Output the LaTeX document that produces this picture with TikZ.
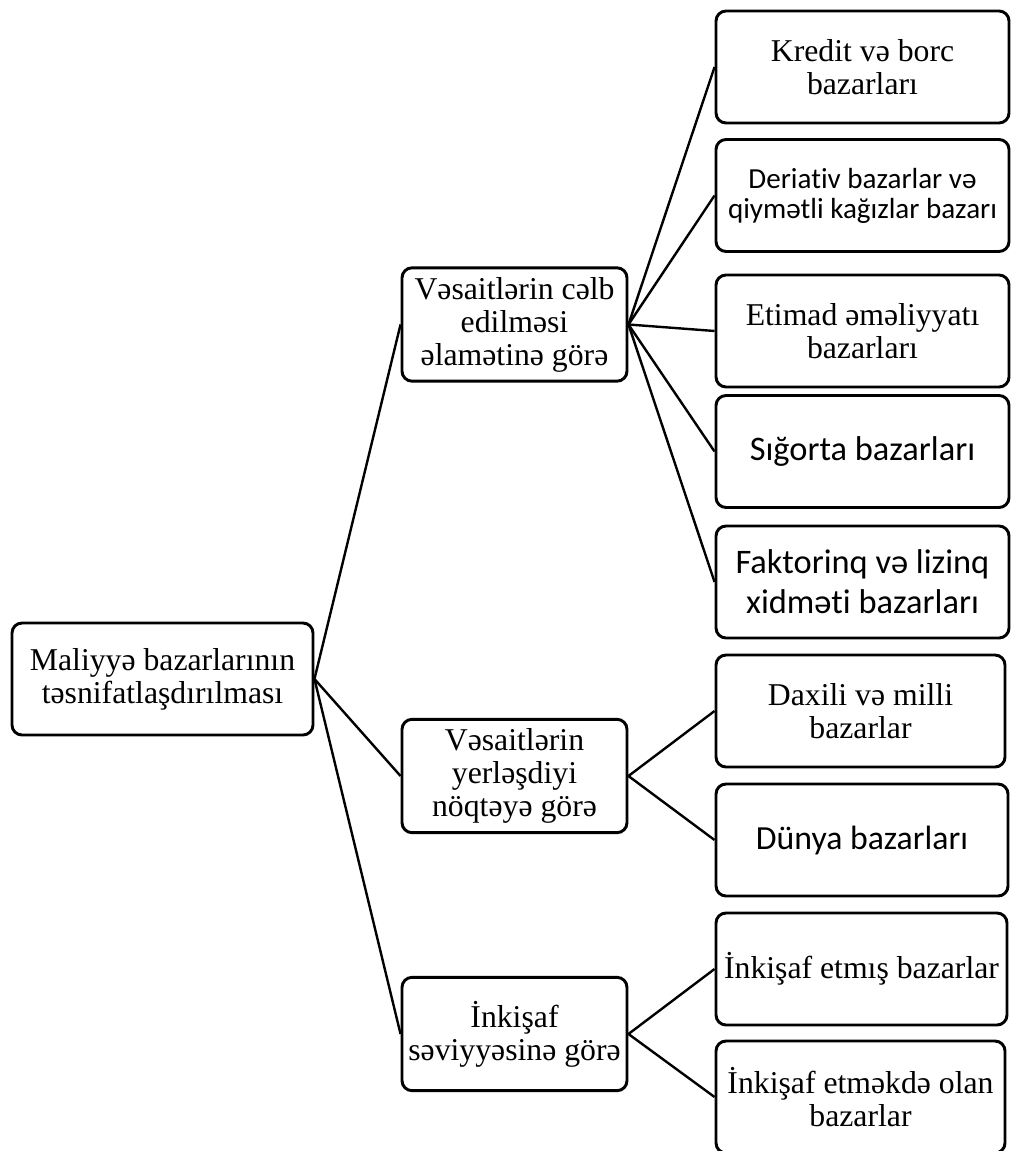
\documentclass[tikz,border=0pt]{standalone}
\usepackage{fontspec}
\setmainfont{Liberation Serif}
\newfontfamily\calfont[Ligatures={NoCommon}]{Carlito}
\begin{document}
\begin{tikzpicture}[x=0.75pt,y=-0.75pt,
  box/.style={draw,line width=2.2pt,rounded corners=7.5pt,align=center,inner sep=0pt},
  tnr/.style={font=\fontsize{23.8}{24.8}\selectfont},
  cal/.style={font=\calfont\fontsize{25.8}{30}\selectfont},
  calsmall/.style={font=\calfont\fontsize{21.8}{22.5}\selectfont},
  lvlone/.style={box,minimum width=168.75pt,minimum height=85pt},
  leaf/.style={box,minimum width=219.75pt,minimum height=84pt},
  conn/.style={line width=1.8pt}]
\useasboundingbox (0,0) rectangle (1011,1151);
\node[box,tnr,minimum width=225.75pt,minimum height=84pt] (root) at (162.5,679) {Maliyyə bazarlarının\\təsnifatlaşdırılması};
\node[lvlone,tnr] (A) at (514.5,324.5) {Vəsaitlərin cəlb\\edilməsi\\əlamətinə görə};
\node[lvlone,tnr] (B) at (514.5,776) {Vəsaitlərin\\yerləşdiyi\\nöqtəyə görə};
\node[lvlone,tnr] (C) at (514.5,1034) {İnkişaf\\səviyyəsinə görə};
\node[leaf,tnr] (r1) at (862.5,67) {Kredit və borc\\bazarları};
\node[leaf,calsmall] (r2) at (862.5,195.5) {Deriativ bazarlar və\\qiymətli kağızlar bazarı};
\node[leaf,tnr] (r3) at (862.5,331) {Etimad əməliyyatı\\bazarları};
\node[leaf,cal] (r4) at (862.5,451.5) {Sığorta bazarları};
\node[leaf,cal] (r5) at (862.5,582) {Faktorinq və lizinq\\xidməti bazarları};
\node[leaf,tnr,minimum width=216.75pt] (r6) at (860.5,711) {Daxili və milli\\bazarlar};
\node[leaf,font=\calfont\fontsize{25.3}{30}\selectfont,minimum width=219pt] (r7) at (862,840) {Dünya bazarları};
\node[leaf,tnr,minimum width=218.25pt] (r8) at (861.5,969) {İnkişaf etmış bazarlar};
\node[leaf,tnr,minimum width=216.75pt] (r9) at (860.5,1097) {İnkişaf etməkdə olan\\bazarlar};
\foreach \t in {A,B,C} \draw[conn] (root.east) -- (\t.west);
\foreach \t in {r1,r2,r3,r4,r5} \draw[conn] (A.east) -- (\t.west);
\foreach \t in {r6,r7} \draw[conn] (B.east) -- (\t.west);
\foreach \t in {r8,r9} \draw[conn] (C.east) -- (\t.west);
\end{tikzpicture}
\end{document}
